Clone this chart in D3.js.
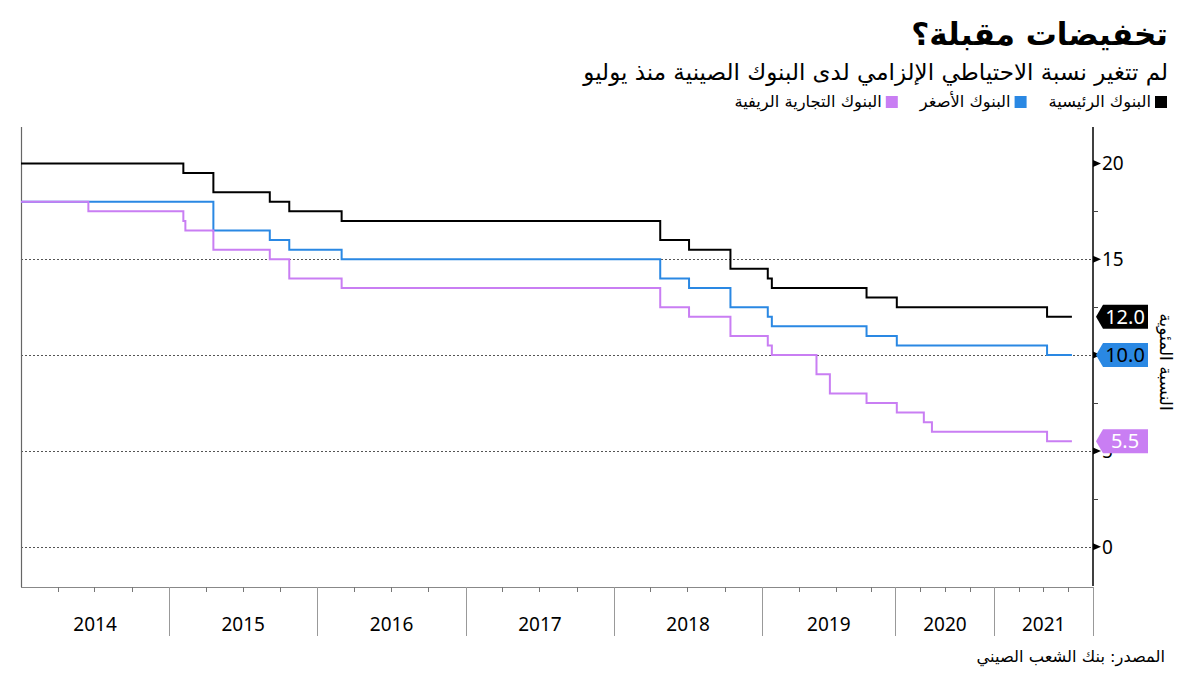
<!DOCTYPE html>
<html>
<head>
<meta charset="utf-8">
<script src="https://cdn.jsdelivr.net/npm/d3@7"></script>
<style>
  body { margin: 0; background: #fff; }
  svg { display: block; }
  .ar { font-family: "DejaVu Sans", sans-serif; }
  .num { font-family: "Noto Sans", "Open Sans", sans-serif; }
</style>
</head>
<body>
<div id="chart"></div>
<script>
// step dates and rates (%) for each bank group
var majorDates = ["2014-01-01","2015-02-05","2015-04-20","2015-09-06","2015-10-24","2016-03-01","2018-04-25","2018-07-05","2018-10-15","2019-01-15","2019-01-25","2019-09-16","2020-01-06","2021-07-15","2021-10-15"]
var majorVals  = [20, 19.5, 18.5, 18, 17.5, 17, 16, 15.5, 14.5, 14, 13.5, 13, 12.5, 12, 12]

var smallDates = ["2014-01-01","2015-04-20","2015-09-06","2015-10-24","2016-03-01","2018-04-25","2018-07-05","2018-10-15","2019-01-15","2019-01-25","2019-09-16","2020-01-06","2021-07-15","2021-10-15"]
var smallVals  = [18, 16.5, 16, 15.5, 15, 14, 13.5, 12.5, 12, 11.5, 11, 10.5, 10, 10]

var ruralDates = ["2014-01-01","2014-06-16","2015-02-05","2015-02-10","2015-04-20","2015-09-06","2015-10-24","2016-03-01","2018-04-25","2018-07-05","2018-10-15","2019-01-15","2019-01-25","2019-05-15","2019-06-17","2019-09-16","2020-01-06","2020-04-15","2020-05-15","2021-07-15","2021-10-15"]
var ruralVals  = [18, 17.5, 17, 16.5, 15.5, 15, 14, 13.5, 12.5, 12, 11, 10.5, 10, 9, 8, 7.5, 7, 6.5, 6, 5.5, 5.5]

var seriesNames = ["البنوك الرئيسية", "البنوك الأصغر", "البنوك التجارية الريفية"]
var seriesColors = ["#000000", "#2a88e3", "#c97ef3"]
var tagText = ["#ffffff", "#000000", "#ffffff"]

var years = [2014, 2015, 2016, 2017, 2018, 2019, 2020, 2021]
var yTicks = [0, 5, 10, 15, 20]
var yMinor = [2.5, 7.5, 12.5, 17.5]

var title = "تخفيضات مقبلة؟"
var subtitle = "لم تتغير نسبة الاحتياطي الإلزامي لدى البنوك الصينية منذ يوليو"
var yTitle = "النسبة المئوية"
var source = "المصدر: بنك الشعب الصيني"

var parse = d3.timeParse("%Y-%m-%d")
function build(dates, vals){ return dates.map(function(d, i){ return {date: parse(d), v: vals[i]} }) }
var series = [build(majorDates, majorVals), build(smallDates, smallVals), build(ruralDates, ruralVals)]

var W = 1200, H = 675
var pL = 21, pR = 1093, pT = 127, pB = 587

var svg = d3.select('#chart').append('svg').attr('width', W).attr('height', H)

// the original axis is squeezed after autumn 2019
var x = d3.scaleTime()
  .domain([parse("2014-01-01"), parse("2019-09-14"), parse("2022-01-01")])
  .range([pL, 866, pR])
var y = d3.scaleLinear().domain([-2.1, 21.9]).range([pB, pT])

// grid
svg.append('g').selectAll('line').data(yTicks.filter(function(d){ return d < 20 }))
  .join('line')
  .attr('x1', pL).attr('x2', pR)
  .attr('y1', function(d){ return Math.round(y(d)) + .5 }).attr('y2', function(d){ return Math.round(y(d)) + .5 })
  .attr('stroke', '#555').attr('stroke-dasharray', '2,2')

// frame
svg.append('line').attr('x1', pL + .5).attr('x2', pL + .5).attr('y1', pT).attr('y2', pB)
  .attr('stroke', '#666').attr('stroke-width', 1.2)
svg.append('line').attr('x1', pL).attr('x2', pR).attr('y1', pB + .5).attr('y2', pB + .5)
  .attr('stroke', '#888').attr('stroke-width', 1.2)

// x axis: year separators, quarter ticks, labels
var bounds = years.concat([2022]).map(function(yr){ return new Date(yr, 0, 1) })
svg.append('g').selectAll('line').data(bounds.slice(1))
  .join('line')
  .attr('x1', function(d){ return Math.round(x(d)) + .5 }).attr('x2', function(d){ return Math.round(x(d)) + .5 })
  .attr('y1', pB).attr('y2', pB + 49)
  .attr('stroke', '#999')

var quarters = []
years.forEach(function(yr){ [3, 6, 9].forEach(function(m){ quarters.push(new Date(yr, m, 1)) }) })
svg.append('g').selectAll('line').data(quarters)
  .join('line')
  .attr('x1', function(d){ return Math.round(x(d)) + .5 }).attr('x2', function(d){ return Math.round(x(d)) + .5 })
  .attr('y1', pB).attr('y2', pB + 5)
  .attr('stroke', '#777')

svg.append('g').selectAll('text').data(years)
  .join('text')
  .attr('class', 'num')
  .attr('x', function(d){ return (x(new Date(d, 0, 1)) + x(new Date(d + 1, 0, 1))) / 2 })
  .attr('y', 631)
  .attr('text-anchor', 'middle')
  .attr('font-size', 19)
  .text(function(d){ return d })

// lines
var line = d3.line().curve(d3.curveStepAfter)
  .x(function(d){ return x(d.date) })
  .y(function(d){ return y(d.v) })

svg.append('g').selectAll('path').data(series)
  .join('path')
  .attr('d', line)
  .attr('fill', 'none')
  .attr('stroke', function(d, i){ return seriesColors[i] })
  .attr('stroke-width', 2)

// right axis
svg.append('line').attr('x1', pR).attr('x2', pR).attr('y1', pT).attr('y2', pB - 1)
  .attr('stroke', '#000').attr('stroke-width', 1.5)
svg.append('g').selectAll('path').data(yTicks)
  .join('path')
  .attr('d', function(d){ var yy = y(d); return 'M' + pR + ',' + (yy - 3.5) + 'L' + (pR + 8) + ',' + yy + 'L' + pR + ',' + (yy + 3.5) + 'Z' })
  .attr('fill', '#000')
svg.append('g').selectAll('line').data(yMinor)
  .join('line')
  .attr('x1', pR).attr('x2', pR + 5)
  .attr('y1', function(d){ return Math.round(y(d)) + .5 }).attr('y2', function(d){ return Math.round(y(d)) + .5 })
  .attr('stroke', '#444')
// the 10 label sits fully under the blue tag in the original, so it is left out
svg.append('g').selectAll('text').data(yTicks.filter(function(d){ return d != 10 }))
  .join('text')
  .attr('class', 'num')
  .attr('x', pR + 9)
  .attr('y', function(d){ return y(d) + 7 })
  .attr('font-size', 19)
  .text(function(d){ return d })

// end value tags
series.forEach(function(s, i){
  var last = s[s.length - 1]
  var yy = y(last.v)
  var g = svg.append('g')
  g.append('path')
    .attr('d', 'M' + (pR + 3) + ',' + yy + 'L' + (pR + 10) + ',' + (yy - 12) + 'L' + 1148 + ',' + (yy - 12) +
      'L' + 1148 + ',' + (yy + 12) + 'L' + (pR + 10) + ',' + (yy + 12) + 'Z')
    .attr('fill', seriesColors[i])
  g.append('text')
    .attr('class', 'num')
    .attr('x', 1125).attr('y', yy + 7)
    .attr('text-anchor', 'middle')
    .attr('font-size', 20)
    .attr('fill', tagText[i])
    .text(last.v.toFixed(1))
})

// y title
svg.append('text')
  .attr('class', 'ar')
  .attr('transform', 'translate(1160,362) rotate(90)')
  .attr('text-anchor', 'middle')
  .attr('font-size', 17)
  .attr('direction', 'rtl')
  .text(yTitle)

// titles
svg.append('text').attr('class', 'ar').attr('direction', 'rtl')
  .attr('x', 1168).attr('y', 45)
  .attr('font-size', 31).attr('font-weight', 'bold')
  .text(title)
svg.append('text').attr('class', 'ar').attr('direction', 'rtl')
  .attr('x', 1168).attr('y', 80)
  .attr('font-size', 23)
  .text(subtitle)

// legend, laid out right to left
var lx = 1167
var legend = svg.append('g')
seriesNames.forEach(function(name, i){
  legend.append('rect').attr('x', lx - 12).attr('y', 96).attr('width', 12).attr('height', 12)
    .attr('fill', seriesColors[i])
  var t = legend.append('text').attr('class', 'ar').attr('direction', 'rtl')
    .attr('x', lx - 16).attr('y', 107)
    .attr('font-size', 16.3)
    .text(name)
  lx = lx - 16 - t.node().getComputedTextLength() - 22
})

// source
svg.append('text').attr('class', 'ar').attr('direction', 'rtl')
  .attr('x', 1165).attr('y', 662)
  .attr('font-size', 16.3)
  .text(source)
</script>
</body>
</html>
